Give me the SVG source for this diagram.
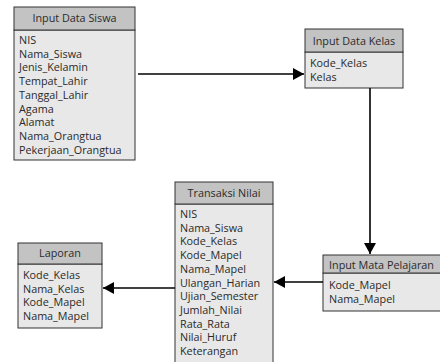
<svg xmlns="http://www.w3.org/2000/svg" width="440" height="362" viewBox="0 0 440 362">
<style>
.hd{fill:#c3c3c3;stroke:#333;stroke-width:1}
.bd{fill:#e8e8e8;stroke:#333;stroke-width:1}
.t{font-family:"Open Sans","Liberation Sans",sans-serif;font-size:10.8px;fill:#2a2a2a}
.h{font-family:"Open Sans","Liberation Sans",sans-serif;font-size:10.8px;fill:#2a2a2a;text-anchor:middle}
.c{stroke:#000;stroke-width:1.6;fill:none}
</style>
<defs>
<marker id="ah" viewBox="0 0 11 12" refX="11" refY="6" markerWidth="11" markerHeight="12" markerUnits="userSpaceOnUse" orient="auto">
<path d="M0,0 L11,6 L0,12 z" fill="#000"/>
</marker>
</defs>
<rect width="440" height="362" fill="#fff"/>
<g id="siswa">
<rect class="bd" x="14" y="30" width="121" height="130"/>
<rect class="hd" x="14" y="7" width="121" height="23"/>
<text class="h" x="74.5" y="22">Input Data Siswa</text>
<text class="t" x="19" y="44">NIS</text>
<text class="t" x="19" y="57.7">Nama_Siswa</text>
<text class="t" x="19" y="71.4">Jenis_Kelamin</text>
<text class="t" x="19" y="85.1">Tempat_Lahir</text>
<text class="t" x="19" y="98.8">Tanggal_Lahir</text>
<text class="t" x="19" y="112.5">Agama</text>
<text class="t" x="19" y="126.2">Alamat</text>
<text class="t" x="19" y="139.9">Nama_Orangtua</text>
<text class="t" x="19" y="153.6">Pekerjaan_Orangtua</text>
</g>
<g id="kelas">
<rect class="bd" x="305" y="52" width="98" height="36"/>
<rect class="hd" x="305" y="29" width="98" height="23"/>
<text class="h" x="354" y="44.5">Input Data Kelas</text>
<text class="t" x="310" y="67">Kode_Kelas</text>
<text class="t" x="310" y="81">Kelas</text>
</g>
<g id="transaksi">
<rect class="bd" x="175" y="204" width="98" height="162"/>
<rect class="hd" x="175" y="182" width="98" height="22"/>
<text class="h" x="224" y="196.5">Transaksi Nilai</text>
<text class="t" x="180" y="218">NIS</text>
<text class="t" x="180" y="231.7">Nama_Siswa</text>
<text class="t" x="180" y="245.4">Kode_Kelas</text>
<text class="t" x="180" y="259.1">Kode_Mapel</text>
<text class="t" x="180" y="272.8">Nama_Mapel</text>
<text class="t" x="180" y="286.5">Ulangan_Harian</text>
<text class="t" x="180" y="300.2">Ujian_Semester</text>
<text class="t" x="180" y="313.9">Jumlah_Nilai</text>
<text class="t" x="180" y="327.6">Rata_Rata</text>
<text class="t" x="180" y="341.3">Nilai_Huruf</text>
<text class="t" x="180" y="355">Keterangan</text>
</g>
<g id="laporan">
<rect class="bd" x="18" y="264" width="84" height="64"/>
<rect class="hd" x="18" y="243" width="84" height="21"/>
<text class="h" x="60" y="257">Laporan</text>
<text class="t" x="23" y="279">Kode_Kelas</text>
<text class="t" x="23" y="292.7">Nama_Kelas</text>
<text class="t" x="23" y="306.4">Kode_Mapel</text>
<text class="t" x="23" y="320.1">Nama_Mapel</text>
</g>
<g id="mapel">
<rect class="bd" x="323" y="273" width="120" height="38"/>
<rect class="hd" x="323" y="255" width="120" height="18"/>
<text class="t" x="329" y="268.5">Input Mata Pelajaran</text>
<text class="t" x="329" y="289">Kode_Mapel</text>
<text class="t" x="329" y="303">Nama_Mapel</text>
</g>
<g id="connectors">
<line class="c" x1="138" y1="74" x2="304" y2="74" marker-end="url(#ah)"/>
<line class="c" x1="370" y1="88" x2="370" y2="254" marker-end="url(#ah)"/>
<line class="c" x1="323" y1="282" x2="274" y2="282" marker-end="url(#ah)"/>
<line class="c" x1="175" y1="288" x2="103" y2="288" marker-end="url(#ah)"/>
</g>
</svg>
